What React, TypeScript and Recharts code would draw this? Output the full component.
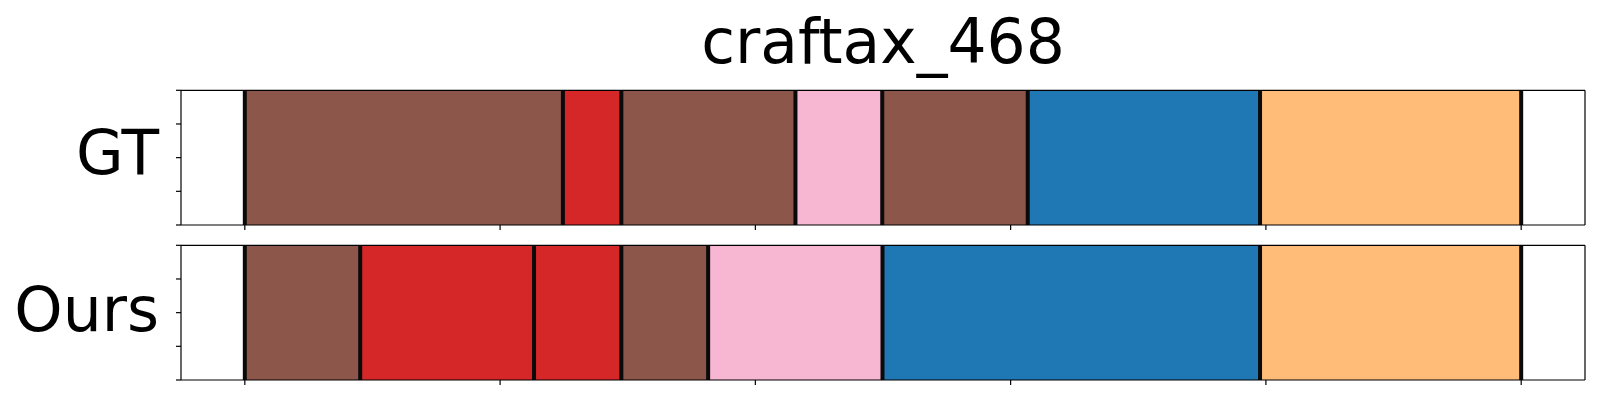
import React from "react"
import { ComposedChart, Area, XAxis, YAxis, ReferenceLine } from "recharts"

// segment boundaries (timeline units) and the class of each segment
const gtBounds = [0, 124.6, 147.5, 215.7, 249.7, 306.7, 397.7, 500]
const gtClasses = ["brown", "red", "brown", "pink", "brown", "blue", "orange"]
const oursBounds = [0, 45.2, 113.3, 147.5, 181.5, 249.8, 397.7, 500]
const oursClasses = ["brown", "red", "red", "brown", "pink", "blue", "orange"]
const xTicks = [0, 100, 200, 300, 400, 500]
const yTicks = [0, 1, 2, 3, 4]

const colors: Record<string, string> = {
  brown: "#8c564b",
  red: "#d62728",
  pink: "#f7b6d2",
  blue: "#1f77b4",
  orange: "#ffbb78",
}

const font = "'DejaVu Sans', sans-serif"
const blank = () => ""
const frame = { stroke: "#000", strokeWidth: 1.2 }

function Strip({ bounds, classes, top }: { bounds: number[]; classes: string[]; top: number }) {
  return (
    <div style={{ position: "absolute", left: 0, top, width: 1600, height: 160 }}>
      <ComposedChart width={1600} height={160} margin={{ top: 9.3, right: 14, bottom: 5, left: 161 }}>
        <XAxis
          dataKey="t"
          type="number"
          domain={[-25, 525]}
          ticks={xTicks}
          interval={0}
          tickFormatter={blank}
          height={10}
          tickSize={5}
          axisLine={frame}
          tickLine={frame}
          allowDataOverflow
        />
        <XAxis
          xAxisId="top"
          orientation="top"
          type="number"
          domain={[-25, 525]}
          tick={false}
          tickLine={false}
          height={1}
          axisLine={frame}
        />
        <YAxis
          type="number"
          domain={[0, 4]}
          ticks={yTicks}
          interval={0}
          tickFormatter={blank}
          width={20}
          tickSize={5}
          axisLine={frame}
          tickLine={frame}
        />
        <YAxis
          yAxisId="right"
          orientation="right"
          type="number"
          domain={[0, 4]}
          tick={false}
          tickLine={false}
          width={1}
          axisLine={frame}
        />
        {classes.map((c, i) => (
          <Area
            key={i}
            data={[
              { t: bounds[i], v: 4 },
              { t: bounds[i + 1], v: 4 },
            ]}
            dataKey="v"
            type="linear"
            baseValue={0}
            fill={colors[c]}
            fillOpacity={1}
            stroke="none"
            dot={false}
            activeDot={false}
            isAnimationActive={false}
          />
        ))}
        {bounds.map((b, i) => (
          <ReferenceLine key={"l" + i} x={b} stroke="#0a0a0a" strokeWidth={4} />
        ))}
      </ComposedChart>
    </div>
  )
}

export default function App() {
  return (
    <div style={{ position: "absolute", left: 0, top: 0, width: 1600, height: 400, background: "#fff" }}>
      <Strip bounds={gtBounds} classes={gtClasses} top={80} />
      <Strip bounds={oursBounds} classes={oursClasses} top={235} />
      <svg width={1600} height={400} style={{ position: "absolute", left: 0, top: 0, pointerEvents: "none" }}>
        <text x={883} y={63.3} textAnchor="middle" fontFamily={font} fontSize={61.5} fill="#000">
          craftax_468
        </text>
        <text x={159} y={174} textAnchor="end" fontFamily={font} fontSize={61.5} fill="#000">
          GT
        </text>
        <text x={159} y={330.5} textAnchor="end" fontFamily={font} fontSize={61.5} fill="#000">
          Ours
        </text>
      </svg>
    </div>
  )
}
